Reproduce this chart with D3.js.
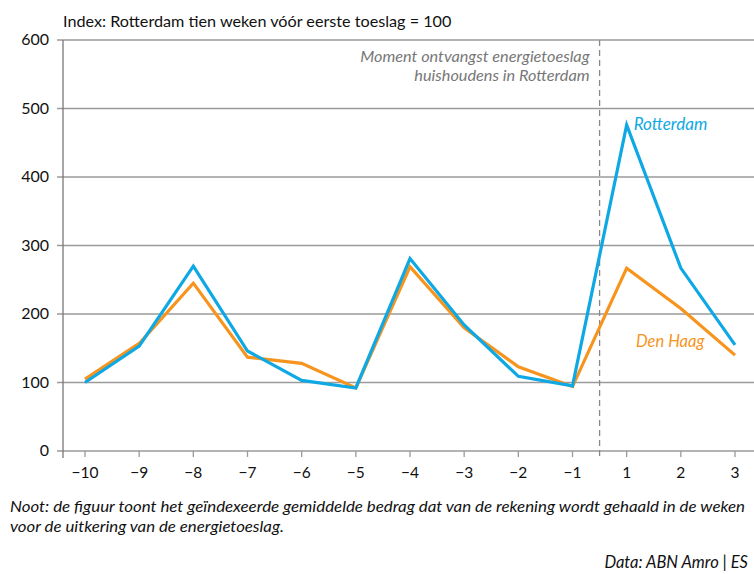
<!DOCTYPE html>
<html><head><meta charset="utf-8">
<script src="https://cdn.jsdelivr.net/npm/d3@7"></script>
<style>
body{margin:0;background:#fff;}
svg{font-family:Lato,"Open Sans",sans-serif;}
</style></head><body>
<svg id="c" width="754" height="574"></svg>
<script>
const weeks = ["−10","−9","−8","−7","−6","−5","−4","−3","−2","−1","1","2","3"];
const rotterdam = [100,153,270,146,103,92,281,184,109,95,476,267,155];
const denHaag = [105,157,245,137,128,92,269,180,123,94,267,208,140];
const yTicks = [0,100,200,300,400,500,600];

const svg = d3.select("#c");
const x = d3.scalePoint().domain(weeks).range([85,735]);
const y = d3.scaleLinear().domain([0,600]).range([451,40]);
const left = 63, right = 754;

svg.append("g").selectAll("line").data(yTicks).join("line")
  .attr("x1",57).attr("x2",right).attr("y1",d=>y(d)).attr("y2",d=>y(d))
  .attr("stroke","#9a9a9a").attr("stroke-width",1.3);
svg.append("g").selectAll("text").data(yTicks).join("text")
  .attr("x",49).attr("y",d=>y(d)+5).attr("text-anchor","end")
  .attr("font-size",16).attr("fill","#111").text(d=>d);
svg.append("line").attr("x1",left).attr("x2",left).attr("y1",y(600)).attr("y2",y(0)+7)
  .attr("stroke","#777").attr("stroke-width",1.3);
svg.append("g").selectAll("line").data(weeks).join("line")
  .attr("x1",d=>x(d)).attr("x2",d=>x(d)).attr("y1",y(0)).attr("y2",y(0)+6)
  .attr("stroke","#9a9a9a").attr("stroke-width",1.3);
svg.append("g").selectAll("text").data(weeks).join("text")
  .attr("x",d=>x(d)).attr("y",y(0)+27).attr("text-anchor","middle")
  .attr("font-size",15.5).attr("fill","#111").text(d=>d);

const xe = (x("−1")+x("1"))/2;
svg.append("line").attr("x1",xe).attr("x2",xe).attr("y1",y(600)).attr("y2",y(0)+6)
  .attr("stroke","#888").attr("stroke-width",1.3).attr("stroke-dasharray","6,4");
svg.append("text").attr("text-anchor","end")
  .attr("font-size",16.3).attr("font-style","italic").attr("fill","#777")
  .selectAll("tspan").data(["Moment ontvangst energietoeslag","huishoudens in Rotterdam"]).join("tspan")
  .attr("x",xe-10).attr("y",(d,i)=>62+i*19).text(d=>d);

const line = d3.line().x((d,i)=>x(weeks[i])).y(d=>y(d));
svg.append("path").datum(denHaag).attr("d",line).attr("fill","none")
  .attr("stroke","#F7941D").attr("stroke-width",3.2);
svg.append("path").datum(rotterdam).attr("d",line).attr("fill","none")
  .attr("stroke","#0EA8E4").attr("stroke-width",3.2);

svg.append("text").attr("x",x("1")+7).attr("y",y(476)+5).attr("font-size",17)
  .attr("font-style","italic").attr("fill","#0EA8E4").text("Rotterdam");
svg.append("text").attr("x",636).attr("y",347).attr("font-size",16.5)
  .attr("font-style","italic").attr("fill","#F7941D").text("Den Haag");

svg.append("text").attr("x",63).attr("y",27).attr("font-size",16.2)
  .attr("fill","#111").text("Index: Rotterdam tien weken vóór eerste toeslag = 100");

const notes = ["Noot: de figuur toont het geïndexeerde gemiddelde bedrag dat van de rekening wordt gehaald in de weken","voor de uitkering van de energietoeslag."];
const noteLen = [735, 274];
svg.append("g").selectAll("text").data(notes).join("text")
  .attr("x",10).attr("y",(d,i)=>512+i*20).attr("font-size",16).attr("font-style","italic")
  .attr("fill","#111").attr("textLength",(d,i)=>noteLen[i]).attr("lengthAdjust","spacingAndGlyphs")
  .text(d=>d);
svg.append("text").attr("x",748).attr("y",568).attr("text-anchor","end").attr("font-size",16.5)
  .attr("font-style","italic").attr("fill","#111").text("Data: ABN Amro | ES");
</script></body></html>
